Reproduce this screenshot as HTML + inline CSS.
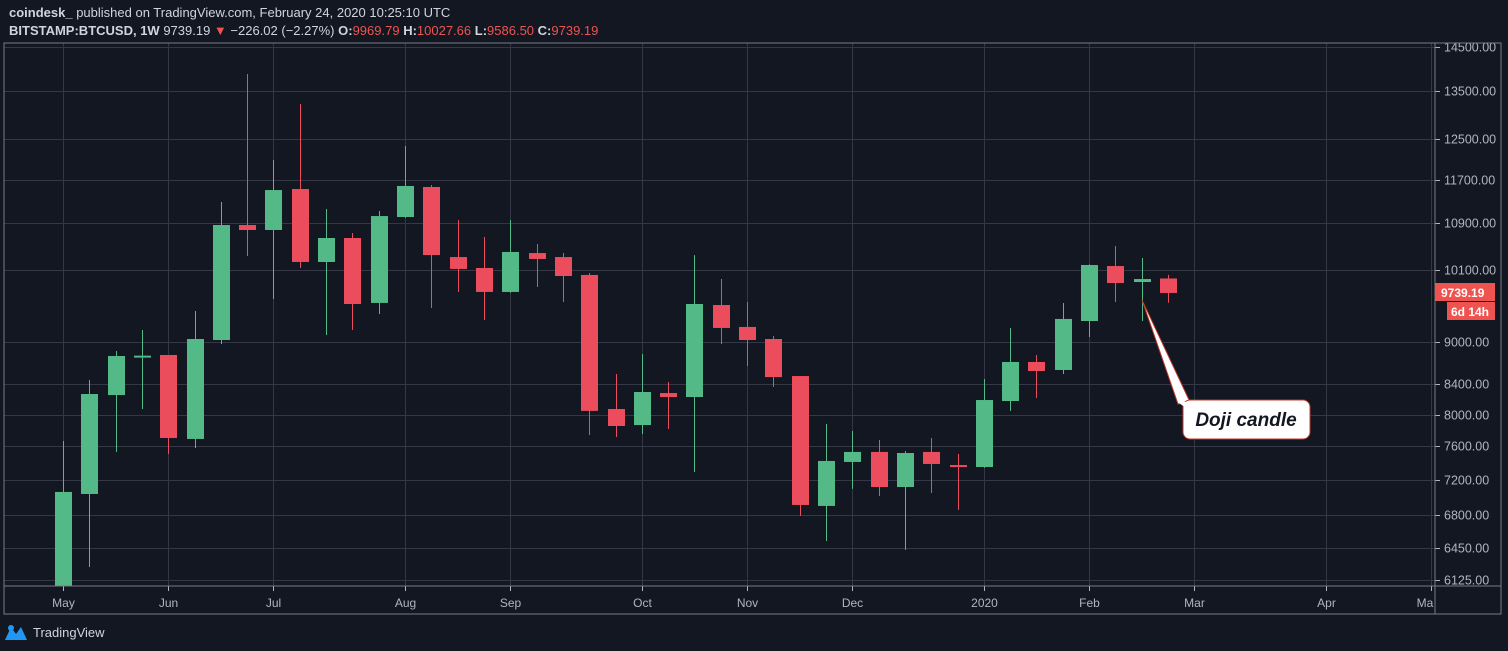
<!DOCTYPE html>
<html><head><meta charset="utf-8"><style>
body{margin:0;background:#131722;width:1508px;height:651px;overflow:hidden;font-family:"Liberation Sans",sans-serif}
svg{position:absolute;left:0;top:0}
</style></head><body>
<svg width="1508" height="651">
<rect width="1508" height="651" fill="#131722"/>
<text x="9" y="17" fill="#d1d4dc" font-size="13"><tspan font-weight="bold">coindesk_</tspan> published on TradingView.com, February 24, 2020 10:25:10 UTC</text>
<text x="9" y="35" fill="#d1d4dc" font-size="13"><tspan font-weight="bold">BITSTAMP:BTCUSD, 1W</tspan> 9739.19 <tspan fill="#ef5350">▼</tspan> −226.02 (−2.27%) <tspan font-weight="bold">O:</tspan><tspan fill="#ef5350">9969.79</tspan> <tspan font-weight="bold">H:</tspan><tspan fill="#ef5350">10027.66</tspan> <tspan font-weight="bold">L:</tspan><tspan fill="#ef5350">9586.50</tspan> <tspan font-weight="bold">C:</tspan><tspan fill="#ef5350">9739.19</tspan></text>
<defs><clipPath id="pc"><rect x="4" y="43" width="1431" height="543"/></clipPath>
<clipPath id="tc"><rect x="4" y="586" width="1431" height="28"/></clipPath></defs>
<g id="grid"></g>
<g id="candles" clip-path="url(#pc)"></g>
<g id="axes"></g>
<rect x="4" y="43" width="1497" height="571" fill="none" stroke="#787b86" stroke-width="1"/>
<line x1="1435" y1="43" x2="1435" y2="614" stroke="#787b86"/>
<line x1="4" y1="586" x2="1501" y2="586" stroke="#787b86"/>
<g>
<rect x="1435" y="283" width="60" height="18" fill="#ef5350"/>
<text x="1441" y="297" fill="#fff" font-size="12" font-weight="bold">9739.19</text>
<rect x="1447" y="302" width="48" height="18" fill="#ef5350"/>
<text x="1451" y="316" fill="#fff" font-size="12" font-weight="bold">6d 14h</text>
</g>
<g>
<polygon points="1142,300 1190,402 1178,404" fill="#fff" stroke="#c0392b" stroke-width="1"/>
<rect x="1183" y="400" width="127" height="39" rx="7" fill="#fff" stroke="#c0392b" stroke-width="1"/>
<polygon points="1179,403 1191,401 1195,405 1186,408" fill="#fff"/>
<text x="1246" y="426" text-anchor="middle" fill="#131722" font-size="19" font-weight="bold" font-style="italic">Doji candle</text>
</g>
<g>
<path d="M5,640 L11,627 L16,634 L21,627 L27,640 Z" fill="#2196f3"/>
<circle cx="11" cy="628" r="3" fill="#2196f3"/>
<text x="33" y="637" fill="#d1d4dc" font-size="13">TradingView</text>
</g>
</svg>
<script>
const opens=[5750,7035,8256,8795,8809,7690,9025,10871,10784,11523,10240,10645,9583,11013,11561,10322,10141,9755,10389,10322,10027,8072,7865,8283,8230,9551,9218,9040,8514,6900,7409,7530,7115,7530,7372,7349,8177,8710,8598,9307,10173,9913,9969.79];
const highs=[7665,8460,8866,9173,8809,9459,11284,13880,12077,13223,11157,10731,11120,12354,11599,10960,10663,10960,10542,10389,10059,8543,8823,8432,10355,9961,9598,9084,8514,7880,7790,7677,7541,7702,7505,8473,9203,8809,9583,10200,10508,10306,10027.66];
const lows=[5650,6251,7530,8072,7505,7578,8967,10339,9645,10141,9099,9173,9413,11000,9505,9755,9322,9740,9834,9598,7740,7715,7752,7815,7289,8967,8654,8364,6789,6519,7093,7012,6426,7046,6856,7340,8047,8217,8543,9069,9598,9307,9586.5];
const closes=[7058,8270,8795,8800,7702,9040,10871,10784,11504,10240,10645,9567,11030,11580,10355,10125,9755,10407,10290,10010,8047,7853,8297,8230,9567,9203,9025,8500,6911,7421,7530,7115,7517,7385,7360,8190,8710,8584,9338,10190,9897,9961,9739.19];
const yTicks=[14500,13500,12500,11700,10900,10100,9000,8400,8000,7600,7200,6800,6450,6125];
const monthLabels=["May","Jun","Jul","Aug","Sep","Oct","Nov","Dec","2020","Feb","Mar","Apr","Ma"];
const monthIdx=[0,4,8,13,17,22,26,30,35,39,43,48,52];
const NS="http://www.w3.org/2000/svg";
function y(p){return 47+(Math.log(14500)-Math.log(p))*618;}
function x(i){return 63+i*26.31;}
function mk(t,a,parent){const e=document.createElementNS(NS,t);for(const k in a)e.setAttribute(k,a[k]);parent.appendChild(e);return e;}
const grid=document.getElementById('grid'),cg=document.getElementById('candles'),ax=document.getElementById('axes');
yTicks.forEach(v=>{const yy=Math.round(y(v))+0.5;
 const l=mk('line',{x1:4,x2:1435,y1:yy,y2:yy,stroke:'#343846'},grid);
 
 
 mk('line',{x1:1435,x2:1440,y1:yy,y2:yy,stroke:'#b2b5be'},ax);
 const t=mk('text',{x:1444,y:yy+4,fill:'#b2b5be','font-size':12.5},ax);t.textContent=v.toFixed(2);
 
 
});
monthLabels.forEach((m,i)=>{const xx=Math.round(x(monthIdx[i]))+0.5;
 if(xx<1435){const l=mk('line',{x1:xx,x2:xx,y1:43,y2:586,stroke:'#343846'},grid);
 
 
 mk('line',{x1:xx,x2:xx,y1:586,y2:591,stroke:'#b2b5be'},ax);}
 const t=mk('text',{x:xx,y:607,fill:'#b2b5be','font-size':12,'text-anchor':'middle'},ax);t.textContent=m;
 if(xx>1410){t.setAttribute('x',1425);t.setAttribute('clip-path','url(#tc)');}
 
 
});
opens.forEach((o,i)=>{const c=closes[i],up=c>=o,col=up?'#53b987':'#eb4d5c',cx=Math.round(x(i))+0.5;
 const g=mk('g',{},cg);
 
 
 mk('line',{x1:cx,x2:cx,y1:y(highs[i]),y2:y(lows[i]),stroke:col},g);
 const t=Math.min(y(o),y(c)),b=Math.max(y(o),y(c));
 mk('rect',{x:cx-8.5,y:t,width:17,height:Math.max(b-t,2),fill:col},g);
});
</script>
</body></html>
